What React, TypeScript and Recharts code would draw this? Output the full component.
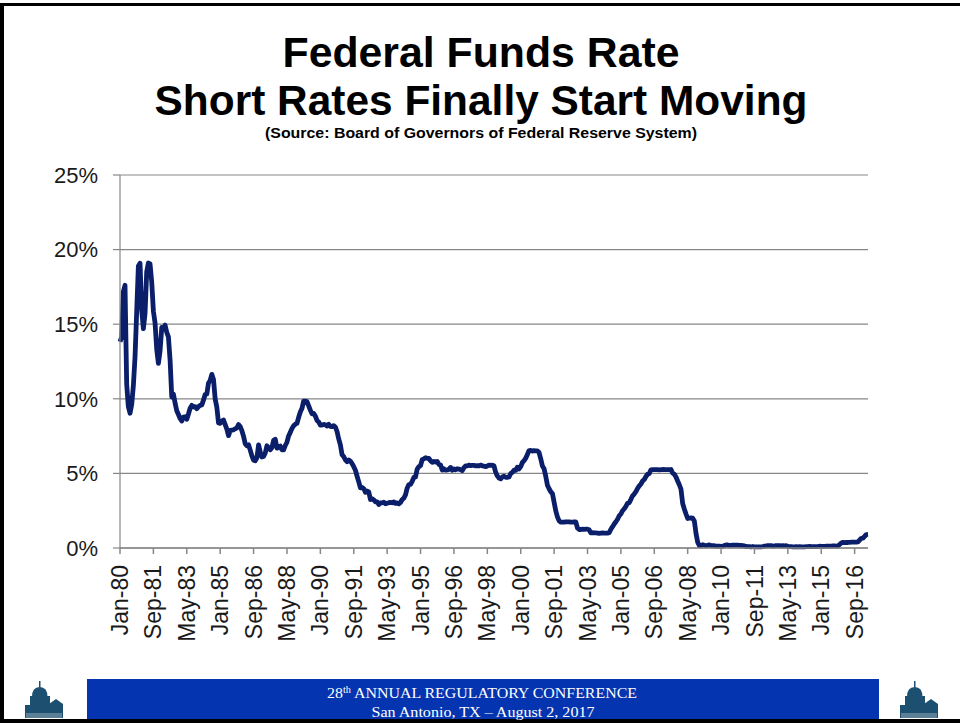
import { LineChart, Line, XAxis, YAxis, CartesianGrid } from 'recharts';

// Effective federal funds rate, monthly, in percent (Jan-1980 .. May-2017)
const rates1980s = [
  13.82, 14.13, 17.19, 17.61, 10.98, 9.47, 9.03, 9.61, 10.87, 12.81, 15.85, 18.9,
  19.08, 15.93, 14.7, 15.72, 18.52, 19.1, 19.04, 17.82, 15.87, 15.08, 13.31, 12.37,
  13.22, 14.78, 14.68, 14.94, 14.45, 14.15, 12.59, 10.12, 10.31, 9.71, 9.2, 8.95,
  8.68, 8.51, 8.77, 8.8, 8.63, 8.98, 9.37, 9.56, 9.45, 9.48, 9.34, 9.47,
  9.56, 9.59, 9.91, 10.29, 10.32, 11.06, 11.23, 11.64, 11.3, 9.99, 9.43, 8.38,
  8.35, 8.5, 8.58, 8.27, 7.97, 7.53, 7.88, 7.9, 7.92, 7.99, 8.05, 8.27,
  8.14, 7.86, 7.48, 6.99, 6.85, 6.92, 6.56, 6.17, 5.89, 5.85, 6.04, 6.91,
  6.43, 6.1, 6.13, 6.37, 6.85, 6.73, 6.58, 6.73, 7.22, 7.29, 6.69, 6.77,
  6.83, 6.58, 6.58, 6.87, 7.09, 7.51, 7.75, 8.01, 8.19, 8.3, 8.35, 8.76,
  9.12, 9.36, 9.85, 9.84, 9.81, 9.53, 9.24, 8.99, 9.02, 8.84, 8.55, 8.45,
];
const rates1990s = [
  8.23, 8.24, 8.28, 8.26, 8.18, 8.29, 8.15, 8.13, 8.2, 8.11, 7.81, 7.31,
  6.91, 6.25, 6.12, 5.91, 5.78, 5.9, 5.82, 5.66, 5.45, 5.21, 4.81, 4.43,
  4.03, 4.06, 3.98, 3.73, 3.82, 3.76, 3.25, 3.3, 3.22, 3.1, 3.09, 2.92,
  3.02, 3.03, 3.07, 2.96, 3.0, 3.04, 3.06, 3.03, 3.09, 2.99, 3.02, 2.96,
  3.05, 3.25, 3.34, 3.56, 4.01, 4.25, 4.26, 4.47, 4.73, 4.76, 5.29, 5.45,
  5.53, 5.92, 5.98, 6.05, 6.01, 6.0, 5.85, 5.74, 5.8, 5.76, 5.8, 5.6,
  5.56, 5.22, 5.31, 5.22, 5.24, 5.27, 5.4, 5.22, 5.3, 5.24, 5.31, 5.29,
  5.25, 5.19, 5.39, 5.51, 5.5, 5.56, 5.52, 5.54, 5.54, 5.5, 5.52, 5.5,
  5.56, 5.51, 5.49, 5.45, 5.49, 5.56, 5.54, 5.55, 5.51, 5.07, 4.83, 4.68,
  4.63, 4.76, 4.81, 4.74, 4.74, 4.76, 4.99, 5.07, 5.22, 5.2, 5.42, 5.3,
];
const rates2000s = [
  5.45, 5.73, 5.85, 6.02, 6.27, 6.53, 6.54, 6.5, 6.52, 6.51, 6.51, 6.4,
  5.98, 5.49, 5.31, 4.8, 4.21, 3.97, 3.77, 3.65, 3.07, 2.49, 2.09, 1.82,
  1.73, 1.74, 1.73, 1.75, 1.75, 1.75, 1.73, 1.74, 1.75, 1.75, 1.34, 1.24,
  1.24, 1.26, 1.25, 1.26, 1.26, 1.22, 1.01, 1.03, 1.01, 1.01, 1.0, 0.98,
  1.0, 1.01, 1.0, 1.0, 1.0, 1.03, 1.26, 1.43, 1.61, 1.76, 1.93, 2.16,
  2.28, 2.5, 2.63, 2.79, 3.0, 3.04, 3.26, 3.5, 3.62, 3.78, 4.0, 4.16,
  4.29, 4.49, 4.59, 4.79, 4.94, 4.99, 5.24, 5.25, 5.25, 5.25, 5.25, 5.24,
  5.25, 5.26, 5.26, 5.25, 5.25, 5.25, 5.26, 5.02, 4.94, 4.76, 4.49, 4.24,
  3.94, 2.98, 2.61, 2.28, 1.98, 2.0, 2.01, 2.0, 1.81, 0.97, 0.39, 0.16,
  0.15, 0.22, 0.18, 0.15, 0.18, 0.21, 0.16, 0.16, 0.15, 0.12, 0.12, 0.12,
];
const rates2010s = [
  0.11, 0.13, 0.16, 0.2, 0.2, 0.18, 0.18, 0.19, 0.19, 0.19, 0.19, 0.18,
  0.17, 0.16, 0.14, 0.1, 0.09, 0.09, 0.07, 0.1, 0.08, 0.07, 0.08, 0.07,
  0.08, 0.1, 0.13, 0.14, 0.16, 0.16, 0.16, 0.13, 0.14, 0.16, 0.16, 0.16,
  0.14, 0.15, 0.14, 0.15, 0.11, 0.09, 0.09, 0.08, 0.08, 0.09, 0.08, 0.09,
  0.07, 0.07, 0.08, 0.09, 0.09, 0.1, 0.09, 0.09, 0.09, 0.09, 0.09, 0.12,
  0.11, 0.11, 0.11, 0.12, 0.12, 0.13, 0.13, 0.14, 0.14, 0.12, 0.12, 0.24,
  0.34, 0.38, 0.36, 0.37, 0.37, 0.38, 0.39, 0.4, 0.4, 0.4, 0.41, 0.54,
  0.65, 0.66, 0.79, 0.9, 0.91,
];

const monthNames = ['Jan', 'Feb', 'Mar', 'Apr', 'May', 'Jun', 'Jul', 'Aug', 'Sep', 'Oct', 'Nov', 'Dec'];
const startYear = 1980;
const yTicks = [0, 5, 10, 15, 20, 25];

const rates = [...rates1980s, ...rates1990s, ...rates2000s, ...rates2010s];
const data = rates.map((rate, i) => {
  const yy = String((startYear + Math.floor(i / 12)) % 100).padStart(2, '0');
  return { label: `${monthNames[i % 12]}-${yy}`, rate };
});

const FONT = '"Liberation Sans", Arial, sans-serif';
const SERIF = '"Liberation Serif", "Times New Roman", serif';
const GRID = '#878787';

// rotated category label, reading bottom-to-top like Excel
function MonthTick(props: any) {
  const { x, y, payload } = props;
  return (
    <text
      x={x}
      y={y}
      dy="0.35em"
      transform={`rotate(-90, ${x}, ${y})`}
      textAnchor="end"
      fontSize={23}
      fontFamily={FONT}
      fill="#1a1a1a"
    >
      {payload.value}
    </text>
  );
}

function Logo({ x }: { x: number }) {
  const c = '#1d4f70';
  return (
    <g transform={`translate(${x}, 0)`} fill={c}>
      <rect x={14} y={681} width={1.5} height={8} />
      <path d="M7 697 Q7 687 14.7 687 Q22.5 687 22.5 697 Z" />
      <rect x={5} y={696} width={20} height={22} />
      <path d="M24 704 L31 699 L38 704 L38 718 L24 718 Z" />
      <rect x={0} y={705} width={6} height={13} />
      <rect x={1} y={713} width={36} height={5} fill="#5b7f96" />
    </g>
  );
}

export default function App() {
  return (
    <div
      style={{
        position: 'absolute',
        left: 0,
        top: 0,
        width: 960,
        height: 723,
        background: '#fff',
        overflow: 'hidden',
      }}
    >
      <svg width={960} height={723} style={{ position: 'absolute', left: 0, top: 0 }}>
        {/* slide frame */}
        <rect x={0} y={3} width={960} height={3} fill="#000" />
        <rect x={0} y={3} width={4} height={720} fill="#000" />
        <rect x={0} y={719} width={960} height={4} fill="#000" />

        <text
          x={481}
          y={67}
          textAnchor="middle"
          fontSize={42}
          fontWeight="bold"
          fontFamily={FONT}
          textLength={397}
          lengthAdjust="spacingAndGlyphs"
        >
          Federal Funds Rate
        </text>
        <text
          x={481}
          y={115}
          textAnchor="middle"
          fontSize={42}
          fontWeight="bold"
          fontFamily={FONT}
          textLength={653}
          lengthAdjust="spacingAndGlyphs"
        >
          Short Rates Finally Start Moving
        </text>
        <text
          x={481}
          y={138}
          textAnchor="middle"
          fontSize={14}
          fontWeight="bold"
          fontFamily={FONT}
          textLength={432}
          lengthAdjust="spacingAndGlyphs"
        >
          (Source: Board of Governors of Federal Reserve System)
        </text>

        {/* conference footer */}
        <rect x={87} y={679} width={792} height={40} fill="#0434b0" />
        <text
          x={482}
          y={698}
          textAnchor="middle"
          fontSize={15.5}
          fill="#fff"
          fontFamily={SERIF}
          textLength={310}
          lengthAdjust="spacingAndGlyphs"
        >
          28<tspan fontSize={10} dy={-5}>th</tspan>
          <tspan dy={5}> ANNUAL REGULATORY CONFERENCE</tspan>
        </text>
        <text
          x={483}
          y={717}
          textAnchor="middle"
          fontSize={15.5}
          fill="#fff"
          fontFamily={SERIF}
          textLength={223}
          lengthAdjust="spacingAndGlyphs"
        >
          San Antonio, TX – August 2, 2017
        </text>
        <Logo x={25} />
        <Logo x={900} />
      </svg>

      <div style={{ position: 'absolute', left: 0, top: 0 }}>
        <LineChart
          width={960}
          height={650}
          data={data}
          margin={{ top: 175, right: 92, left: 50, bottom: 12 }}
        >
          <CartesianGrid vertical={false} stroke={GRID} strokeWidth={1.2} />
          <XAxis
            dataKey="label"
            interval={19}
            stroke={GRID}
            strokeWidth={1.5}
            tickSize={6}
            tickMargin={11}
            height={90}
            tick={<MonthTick />}
          />
          <YAxis
            domain={[0, 25]}
            ticks={yTicks}
            width={70}
            stroke={GRID}
            strokeWidth={1.2}
            tickSize={7}
            tickMargin={15}
            tickFormatter={(v) => `${v}%`}
            tick={{ fill: '#1a1a1a', fontSize: 22, fontFamily: FONT }}
          />
          <Line
            type="linear"
            dataKey="rate"
            stroke="#0a1e6a"
            strokeWidth={4.8}
            strokeLinejoin="round"
            dot={false}
            isAnimationActive={false}
          />
        </LineChart>
      </div>
    </div>
  );
}
